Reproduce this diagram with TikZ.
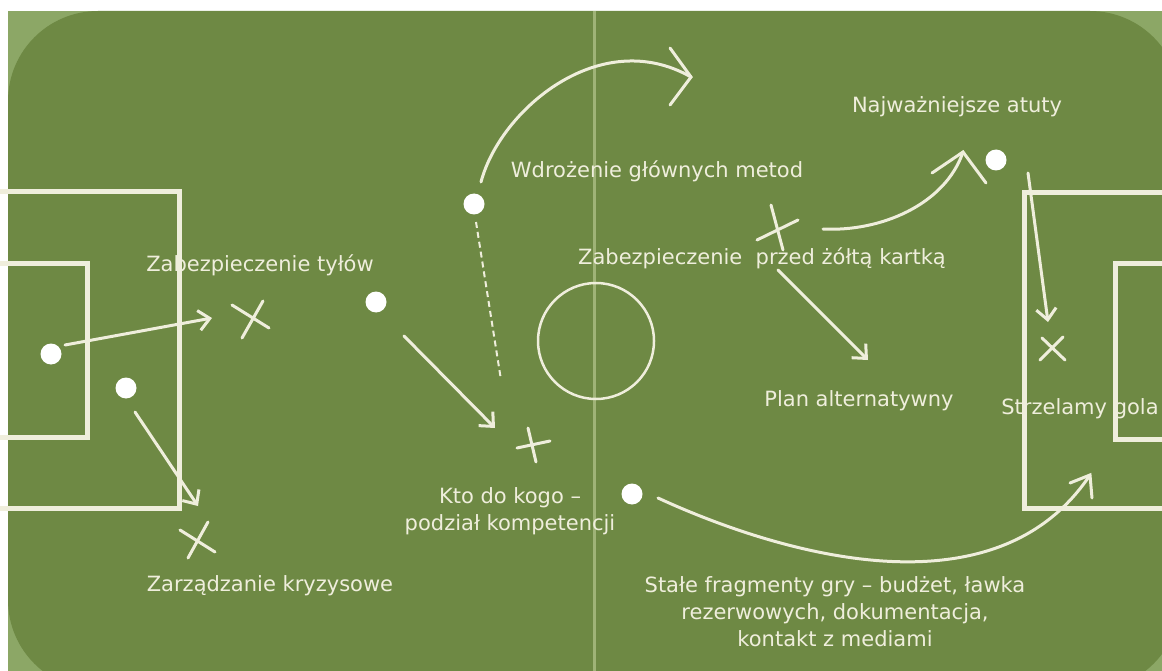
\documentclass[tikz,border=0pt]{standalone}
\usepackage{fontspec}
\setmainfont{DejaVu Sans}
\usetikzlibrary{arrows.meta}
\definecolor{field}{HTML}{6E8944}
\definecolor{outer}{HTML}{8CA766}
\definecolor{chalk}{HTML}{EFEEDC}
\definecolor{midline}{HTML}{9FB377}
\begin{document}
\begin{tikzpicture}[x=1pt,y=-1pt,
  chalkline/.style={draw=chalk, line width=3pt, line cap=round},
  boxline/.style={draw=chalk, line width=5pt},
  tipS/.style={-{Straight Barb[length=11pt,width=20pt]}},
  dot/.style={circle, fill=white, minimum size=21pt, inner sep=0pt},
  lbl/.style={text=chalk, font=\fontsize{21}{27}\selectfont, align=center, inner sep=0pt},
  one/.style={text height=15pt, text depth=4pt}]
\useasboundingbox (0,0) rectangle (1162,671);
\fill[white] (0,0) rectangle (1162,671);
\begin{scope}
\clip (0,0) rectangle (1162,671);
\fill[outer] (8,11) rectangle (1162,671);
\fill[field, rounded corners=90pt] (8,11) rectangle (1180,690);
% centre line and circle
\draw[midline, line width=3pt] (594,11) -- (594,671);
\node[circle, draw=chalk, line width=2.5pt, minimum size=116pt, inner sep=0pt] (cc) at (596,341) {};
% labels
\node[lbl,one] (t1) at (260,266) {Zabezpieczenie tyłów};
\node[lbl,one] (t2) at (657,172) {Wdrożenie głównych metod};
\node[lbl,one] (t3) at (957,107) {Najważniejsze atuty};
\node[lbl,one] (t4) at (762,259) {Zabezpieczenie\ \ przed żółtą kartką};
\node[lbl,one] (t5) at (859,401) {Plan alternatywny};
\node[lbl,one] (t6) at (1080,409) {Strzelamy gola};
\node[lbl,one] (t7) at (270,586) {Zarządzanie kryzysowe};
\node[lbl] (t8) at (510,511) {Kto do kogo –\\podział kompetencji};
\node[lbl] (t9) at (835,612) {Stałe fragmenty gry – budżet, ławka\\rezerwowych, dokumentacja,\\kontakt z mediami};
% penalty boxes
\draw[boxline] (0,192) -- (179,192) -- (179,508) -- (0,508);
\draw[boxline] (0,263) -- (87,263) -- (87,437) -- (0,437);
\draw[boxline] (1170,193) -- (1024,193) -- (1024,508) -- (1170,508);
\draw[boxline] (1170,263) -- (1115,263) -- (1115,439) -- (1170,439);
% players
\node[dot] (p1) at (51,354) {};
\node[dot] (p2) at (126,388) {};
\node[dot] (p3) at (376,302) {};
\node[dot] (p4) at (474,204) {};
\node[dot] (p5) at (632,494) {};
\node[dot] (p6) at (996,160) {};
% crosses
\draw[chalkline] (232,305) -- (269,328) (263,301) -- (242,338);
\draw[chalkline] (180,530) -- (215,552) (208,522) -- (188,558);
\draw[chalkline] (517,448) -- (550,441) (528,428) -- (536,462);
\draw[chalkline] (757,240) -- (798,220) (771,205) -- (783,250);
\draw[chalkline] (1042,338) -- (1065,360) (1063,337) -- (1040,360);
% arrow end points
\coordinate (a1s) at (65,345); \coordinate (a1e) at (212,318);
\coordinate (a2s) at (135,412); \coordinate (a2e) at (198,506);
\coordinate (a3s) at (404,336); \coordinate (a3e) at (495,428);
\coordinate (a4s) at (476,222); \coordinate (a4e) at (501,380);
\coordinate (a5s) at (481,182); \coordinate (a5e) at (691,77);
\coordinate (a6s) at (823,229); \coordinate (a6e) at (963,152);
\coordinate (a7s) at (1028,173); \coordinate (a7e) at (1048,322);
\coordinate (a8s) at (778,270); \coordinate (a8e) at (868,360);
\coordinate (a9s) at (658,498); \coordinate (a9e) at (1090,475);
% straight arrows
\draw[chalkline,tipS] (a1s) -- (a1e);
\draw[chalkline,tipS] (a2s) -- (a2e);
\draw[chalkline,tipS] (a3s) -- (a3e);
\draw[chalkline,tipS] (a7s) -- (a7e);
\draw[chalkline,tipS] (a8s) -- (a8e);
\draw[draw=chalk, line width=2pt, dash pattern=on 6pt off 4pt] (a4s) -- (a4e);
% curved arrows
\draw[chalkline] (a5s) .. controls (500,110) and (600,25) .. (a5e);
\draw[chalkline] (670,48) -- (a5e) -- (670,105);
\draw[chalkline] (a6s) .. controls (880,232) and (945,205) .. (a6e);
\draw[chalkline] (932,173) -- (a6e) -- (986,183);
\draw[chalkline] (a9s) .. controls (760,545) and (990,625) .. (a9e);
\draw[chalkline] (1070,483) -- (a9e) -- (1092,498);
\end{scope}
\end{tikzpicture}
\end{document}
